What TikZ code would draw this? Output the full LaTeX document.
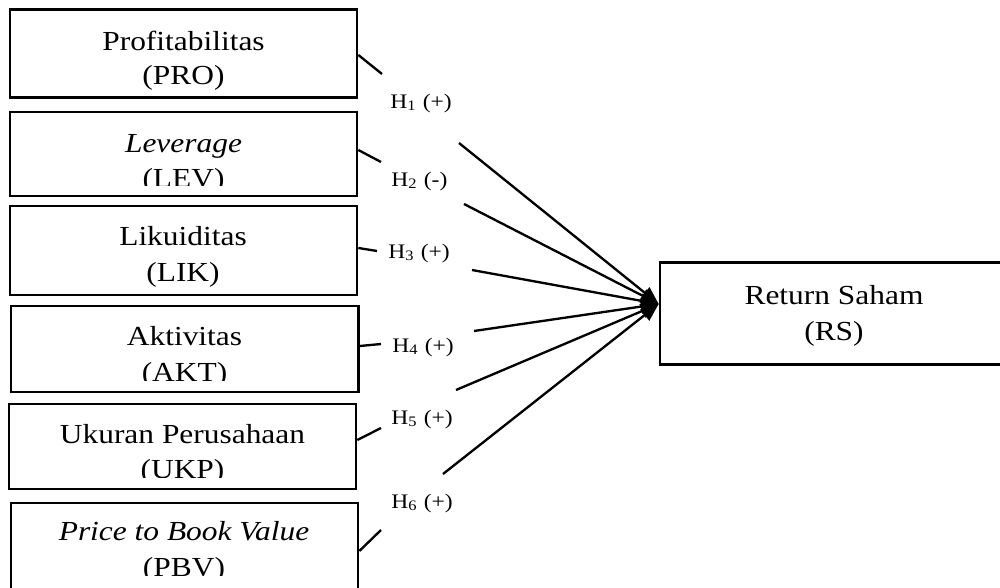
\documentclass[tikz,border=0pt]{standalone}
\usepackage{fontspec}
\setmainfont{Liberation Serif}
\usetikzlibrary{fit,arrows.meta}
\newcommand\sx[1]{\scalebox{1.14}[1]{#1}}
\tikzset{
  box/.style={draw, line width=1.2pt, inner sep=0pt},
  txt/.style={inner sep=0pt, anchor=base, font=\fontsize{12.4}{14}\selectfont},
  hyp/.style={inner sep=0pt, anchor=base west, font=\fontsize{9.3}{11}\selectfont},
  conn/.style={line width=1.05pt},
  arr/.style={line width=1.05pt, -{Triangle[length=8pt,width=6.4pt]}},
}
\begin{document}
\begin{tikzpicture}[x=0.45pt,y=-0.45pt]
\useasboundingbox (0,0) rectangle (1000,588);
\clip (0,0) rectangle (1000,588);

% boxes
\node[box, fit={(10,9.5) (357,97.5)}] (pro) {};
\node[box, fit={(10,112) (357,196)}] (lev) {};
\node[box, fit={(10,206) (357,295)}] (lik) {};
\node[box, fit={(11,306) (358.5,392)}] (akt) {};
\node[box, fit={(9,404) (356,489)}] (ukp) {};
\node[box, fit={(11,503) (358,640)}] (pbv) {};
\node[box, fit={(660,262.5) (1008,364.5)}] (rs) {};

% box texts
\node[txt] (pro-a) at (183.5,50) {\sx{Profitabilitas}};
\node[txt] (pro-b) at (183.5,85) {\sx{(PRO)}};
\begin{scope}
  \clip (lev.north west) rectangle (357,185);
  \node[txt] (lev-a) at (183.5,152) {\sx{\itshape Leverage}};
  \node[txt] (lev-b) at (183.5,188) {\sx{(LEV)}};
\end{scope}
\node[txt] (lik-a) at (183,245) {\sx{Likuiditas}};
\node[txt] (lik-b) at (183,281) {\sx{(LIK)}};
\begin{scope}
  \clip (akt.north west) rectangle (358.5,380);
  \node[txt] (akt-a) at (184.5,345) {\sx{Aktivitas}};
  \node[txt] (akt-b) at (184.5,381) {\sx{(AKT)}};
\end{scope}
\begin{scope}
  \clip (ukp.north west) rectangle (356,477);
  \node[txt] (ukp-a) at (182.5,443) {\sx{Ukuran Perusahaan}};
  \node[txt] (ukp-b) at (182.5,478) {\sx{(UKP)}};
\end{scope}
\begin{scope}
  \clip (pbv.north west) rectangle (358,575);
  \node[txt] (pbv-a) at (184,540) {\sx{\itshape Price to Book Value}};
  \node[txt] (pbv-b) at (184,576) {\sx{(PBV)}};
\end{scope}
\node[txt] (rs-a) at (834,304) {\sx{Return Saham}};
\node[txt] (rs-b) at (834,340) {\sx{(RS)}};

% hypothesis labels
\node[hyp] (h1l) at (390,108) {\sx{H\textsubscript{1} (+)}};
\node[hyp] (h2l) at (391,186) {\sx{H\textsubscript{2} (-)}};
\node[hyp] (h3l) at (388,258) {\sx{H\textsubscript{3} (+)}};
\node[hyp] (h4l) at (392,352) {\sx{H\textsubscript{4} (+)}};
\node[hyp] (h5l) at (391,424) {\sx{H\textsubscript{5} (+)}};
\node[hyp] (h6l) at (391,508) {\sx{H\textsubscript{6} (+)}};

% connector break points
\coordinate (tip) at (rs.west |- 0,304);
\coordinate (g1) at (382,74);  \coordinate (k1) at (459,143);
\coordinate (g2) at (381,162); \coordinate (k2) at (464,204);
\coordinate (g3) at (377,251); \coordinate (k3) at (472,270);
\coordinate (g4) at (381,344); \coordinate (k4) at (474,331);
\coordinate (g5) at (381,428); \coordinate (k5) at (456,390);
\coordinate (g6) at (381,530); \coordinate (k6) at (443,474);

\draw[conn] (pro.east |- 0,55) -- (g1);
\draw[conn] (lev.east |- 0,150) -- (g2);
\draw[conn] (lik.east |- 0,248) -- (g3);
\draw[conn] (akt.east |- 0,346) -- (g4);
\draw[conn] (ukp.east |- 0,440) -- (g5);
\draw[conn] (pbv.east |- 0,551) -- (g6);

\draw[arr] (k1) -- (tip);
\draw[arr] (k2) -- (tip);
\draw[arr] (k3) -- (tip);
\draw[arr] (k4) -- (tip);
\draw[arr] (k5) -- (tip);
\draw[arr] (k6) -- (tip);
\end{tikzpicture}
\end{document}
